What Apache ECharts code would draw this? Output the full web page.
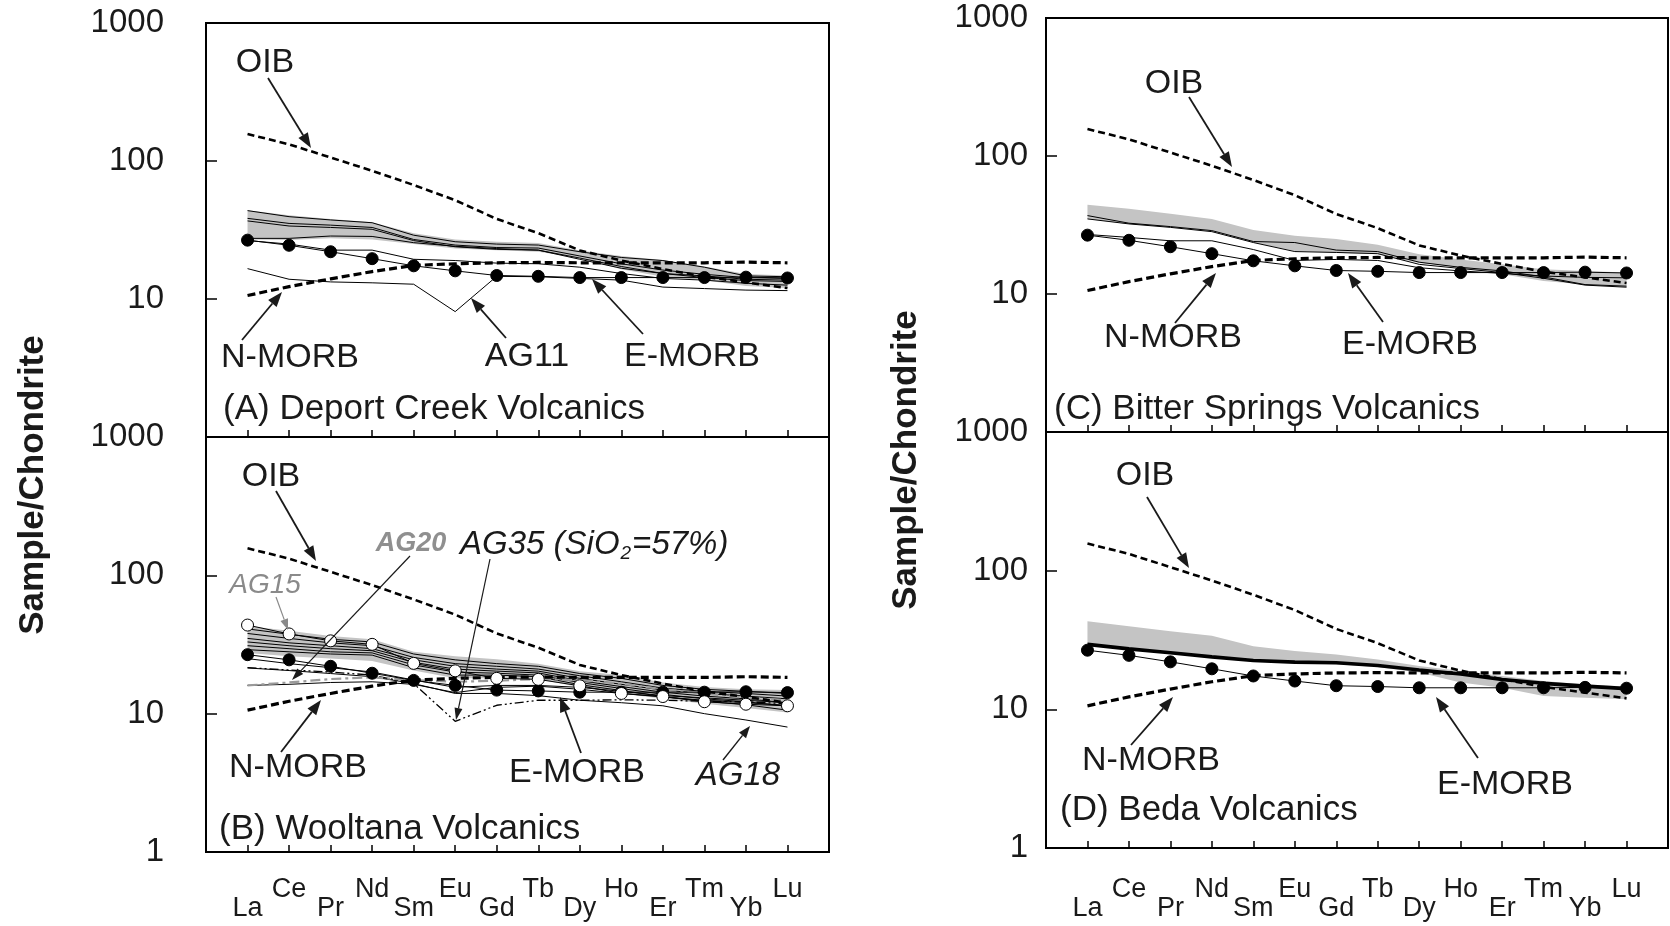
<!DOCTYPE html>
<html>
<head>
<meta charset="utf-8">
<title>Chondrite-normalised REE patterns</title>
<script src="https://cdn.jsdelivr.net/npm/echarts@6/dist/echarts.min.js"></script>
<style>
  html, body { margin: 0; padding: 0; background: #fff; }
  #chart { width: 1670px; height: 926px; }
</style>
</head>
<body>
<div id="chart"></div>
<script>
// ---------- data ----------
var ree = ['La', 'Ce', 'Pr', 'Nd', 'Sm', 'Eu', 'Gd', 'Tb', 'Dy', 'Ho', 'Er', 'Tm', 'Yb', 'Lu'];
var yTicks = [1, 10, 100, 1000];

// reference basalts
var oib   = [157, 132, 106, 85, 67, 52, 38, 30, 22.5, 19, 16.5, 14.5, 13.2, 12];
var nMorb = [10.6, 12.3, 14, 15.8, 17.5, 18, 18.3, 18.4, 18.3, 18.3, 18.3, 18.3, 18.5, 18.3];
var eMorb = [26.7, 24.5, 22, 19.6, 17.4, 16, 14.8, 14.6, 14.3, 14.3, 14.3, 14.3, 14.4, 14.2];

// (A) Deport Creek
var bandAHi = [44, 40.5, 38, 36, 30, 27, 26, 25.5, 22.5, 20.5, 19.2, 17.2, 15.2, 14.8];
var bandALo = [27, 26.8, 27.5, 27, 25, 23.2, 22.6, 22, 19.8, 16.4, 14.5, 13.7, 12.4, 12];
var a1 = [43.7, 39.5, 37.4, 35.7, 29, 26, 25, 24.6, 22, 20, 19, 17, 14.7, 14.5];
var a2 = [38.4, 35.3, 34.3, 33, 27, 24.6, 23.6, 23.4, 20.5, 18, 16.2, 15.1, 14.3, 14.1];
var a3 = [36.8, 33.8, 33, 32, 26.5, 23.9, 22.9, 22.6, 19.8, 17.2, 15.3, 14.7, 13.9, 13.7];
var a4 = [27.5, 27.5, 28.6, 28.4, 25.6, 24.1, 23.2, 22.6, 19.4, 16.7, 15.3, 14.3, 13.6, 13.4];
var a5 = [26.5, 25, 22.6, 22.6, 19.4, 19, 18.2, 18, 17, 15.3, 14.1, 13.7, 13, 12.6];
var ag11 = [16.6, 13.9, 13.3, 13.1, 12.8, 8.1, 14.6, 14.5, 14.1, 13.7, 12.2, 11.9, 11.6, 11.5];

// (B) Wooltana
var bandBHi = [43, 39.7, 36.4, 34.5, 28, 26, 24.7, 23, 20.3, 19, 16.8, 15.6, 15, 14.8];
var bandBLo = [27.5, 26, 25, 24, 20.5, 18, 18, 17.8, 15.5, 14, 12.8, 11.8, 11, 10.2];
var b1 = [41, 37.5, 34.5, 33, 27, 24.5, 23, 22, 19.5, 18, 16, 15, 14.5, 14];
var b2 = [38, 35, 32.5, 31, 25.5, 23, 22, 21, 18.8, 17, 15.3, 14.5, 14, 13.4];
var b3 = [35, 32.5, 31, 29.5, 24.5, 22, 21, 20.3, 18, 16.3, 14.8, 14, 13.4, 12.8];
var b4 = [33, 31, 29.5, 28.5, 23.5, 21, 20.3, 19.7, 17.3, 15.7, 14.3, 13.4, 12.8, 12];
var b5 = [31, 29.5, 28, 27.5, 22.5, 20, 19.6, 19, 16.8, 15.2, 13.8, 12.8, 12.2, 11.3];
var b6 = [29, 28, 27, 26.5, 21.5, 19, 19, 18.5, 16.2, 14.7, 13.3, 12.3, 11.6, 10.6];
var b7 = [25, 23, 21.5, 20, 17.5, 15.5, 16, 16, 15.5, 14.5, 13.5, 13, 12.5, 12];
var b8 = [16, 16.3, 16.8, 17, 16.3, 14.2, 15.5, 15.8, 15, 14, 13.2, 12.5, 12, 11.5];
var ag15 = [43.7, 37.7, 33.6, 31.7, 23.1, 20.4, 18, 17.7, 15.9, 14, 13.3, 12.2, 11.7, 11.4];
var ag18 = [21.4, 20.5, 19.5, 18.5, 16.5, 14, 14, 13.5, 12.5, 12, 11.4, 10, 9, 8];
var ag35 = [21.5, 20.7, 20, 19, 16.5, 8.8, 11.5, 12.5, 12.5, 12.6, 12.5, 12.3, 12.2, 11.8];
var ag20 = [16, 16.8, 17.8, 18.3, 17.5, 17, 17.3, 17.8, 17.5, 16.5, 15, 14, 13, 12.5];

// (C) Bitter Springs
var bandCHi = [44.3, 41.4, 38.1, 35, 29.1, 26.4, 25, 22.7, 19.4, 17.8, 16.4, 15.1, 14.7, 14.3];
var bandCLo = [35, 32.2, 30.8, 28.8, 23.6, 20.5, 19.9, 19.4, 16.8, 15.5, 13.9, 12.4, 11.7, 11.4];
var c1 = [37, 32.6, 30.8, 28.8, 24, 23.6, 20.8, 20.3, 17, 15.6, 14.7, 13.3, 11.7, 11.4];
var c2 = [35, 32.2, 30.4, 28.3, 23.6, 20.3, 20, 19.6, 16.4, 15.3, 14.3, 13, 11.6, 11.2];
var c3 = [27, 25.7, 24.3, 24.3, 21, 17.5, 17.8, 17.5, 15.5, 14.7, 14.1, 13.5, 13.2, 13.1];

// (D) Beda
var bandDHi = [43.2, 39.7, 36.6, 34, 28.5, 26.3, 24.9, 22.9, 20.5, 18.9, 17.4, 16, 15.1, 14.6];
var bandDLo = [29.4, 27.8, 25.6, 23.9, 22.3, 21.5, 21.1, 20.2, 18.4, 15.6, 14.3, 12.5, 12.1, 11.8];
var dMain = [29.4, 27.3, 25.6, 23.9, 22.5, 21.9, 21.7, 20.7, 19.2, 18, 16.4, 15.4, 14.7, 14.1];

// ---------- helpers ----------
var FONT = '"Liberation Sans", Arial, Helvetica, sans-serif';
var INK = '#1a1a1a';
var cats = [' '].concat(ree, ['  ']);

function pad(arr) { return [null].concat(arr, [null]); }

function line(g, data, style) {
  style = style || {};
  return {
    type: 'line', xAxisIndex: g, yAxisIndex: g, data: pad(data),
    symbol: style.symbol || 'none', symbolSize: style.symbolSize || 12,
    itemStyle: { color: style.fill || '#000', borderColor: '#000', borderWidth: style.symbol ? 1 : 0 },
    lineStyle: { color: style.color || '#000', width: style.width || 1, type: style.dash || 'solid' },
    z: style.z || 2, silent: true, animation: false
  };
}

function band(g, lo, hi) {
  return [
    { type: 'line', xAxisIndex: g, yAxisIndex: g, data: pad(lo), stack: 'band' + g,
      symbol: 'none', lineStyle: { width: 0, opacity: 0 }, z: 1, silent: true },
    { type: 'line', xAxisIndex: g, yAxisIndex: g, stack: 'band' + g,
      data: pad(hi.map(function (v, i) { return v - lo[i]; })),
      symbol: 'none', lineStyle: { width: 0, opacity: 0 },
      areaStyle: { color: '#c4c4c4', opacity: 1 }, z: 1, silent: true }
  ];
}

function refs(g) {
  return [
    line(g, oib, { dash: [7, 4], width: 2.6, z: 3 }),
    line(g, nMorb, { dash: [8, 4], width: 3.2, z: 3 }),
    line(g, eMorb, { symbol: 'circle', width: 1, z: 4 })
  ];
}

function arrow(x1, y1, x2, y2, col, w, hl, hw) {
  col = col || INK; w = w || 1.8; hl = hl || 15; hw = hw || 5.5;
  var a = Math.atan2(y2 - y1, x2 - x1);
  var bx = x2 - hl * Math.cos(a), by = y2 - hl * Math.sin(a);
  var px = -Math.sin(a) * hw, py = Math.cos(a) * hw;
  return [
    { type: 'line', z: 100, silent: true, shape: { x1: x1, y1: y1, x2: bx, y2: by },
      style: { stroke: col, lineWidth: w } },
    { type: 'polygon', z: 100, silent: true,
      shape: { points: [[x2, y2], [bx + px, by + py], [bx - px, by - py]] }, style: { fill: col } }
  ];
}

function label(text, x, y, font, col, align) {
  return { type: 'text', x: x, y: y, z: 100, silent: true,
    style: { text: text, font: font || ('34px ' + FONT), fill: col || INK,
      textAlign: align || 'center', textVerticalAlign: 'middle' } };
}

// ---------- layout ----------
var grids = [
  { left: 206, top: 23, width: 623, height: 414 },
  { left: 206, top: 437, width: 623, height: 415 },
  { left: 1046, top: 18, width: 622, height: 414 },
  { left: 1046, top: 432, width: 622, height: 416 }
];

var xAxes = grids.map(function (gr, g) {
  return {
    type: 'category', gridIndex: g, data: cats, boundaryGap: false, position: 'bottom',
    axisLine: { show: true, lineStyle: { color: '#000', width: 2.2 } },
    axisTick: { show: true, inside: true, length: 7, interval: 0, lineStyle: { color: '#000', width: 1.5 } },
    axisLabel: { show: false }, splitLine: { show: false }
  };
});

// staggered element names under the lower panels
[1, 3].forEach(function (g) {
  var extra = g === 3 ? 4 : 0;
  [0, 1].forEach(function (odd) {
    xAxes.push({
      type: 'category', gridIndex: g, data: cats, boundaryGap: false, position: 'bottom',
      axisLine: { show: false }, axisTick: { show: false }, splitLine: { show: false },
      axisLabel: {
        show: true, margin: (odd ? 43 : 24) + extra, fontSize: 27, fontFamily: FONT, color: INK,
        interval: function (i) { return i >= 1 && i <= 14 && (i % 2 === 1) === !!odd; }
      }
    });
  });
});

var yAxes = grids.map(function (gr, g) {
  var upper = g === 0 || g === 2;
  return {
    type: 'log', logBase: 10, min: 1, max: 1000, gridIndex: g,
    axisLine: { show: false },
    axisTick: { show: true, inside: true, length: 11, lineStyle: { color: '#000', width: 1.5 } },
    splitLine: { show: false },
    axisLabel: {
      margin: g < 2 ? 42 : 18, fontSize: 33, fontFamily: FONT, color: INK,
      formatter: function (v) {
        var r = Math.round(v);
        if (upper && r === yTicks[0]) return '';
        return yTicks.indexOf(r) >= 0 ? String(r) : '';
      }
    }
  };
});

var series = [].concat(
  band(0, bandALo, bandAHi),
  [a1, a2, a3, a4, a5].map(function (d) { return line(0, d); }),
  [line(0, ag11)],
  refs(0),

  band(1, bandBLo, bandBHi),
  [b1, b2, b3, b4, b5, b6, b7, b8].map(function (d) { return line(1, d); }),
  [line(1, ag18),
   line(1, ag35, { dash: [9, 3, 2, 3, 2, 3], width: 1.3 }),
   line(1, ag20, { dash: [10, 4, 3, 4], width: 2.2, color: '#9a9a9a' })],
  refs(1),
  [line(1, ag15, { symbol: 'circle', fill: '#fff', z: 5 })],

  band(2, bandCLo, bandCHi),
  [c1, c2, c3].map(function (d) { return line(2, d); }),
  refs(2),

  band(3, bandDLo, bandDHi),
  [line(3, dMain, { width: 3.6 })],
  refs(3)
);

// ---------- annotations ----------
var F = '34px ' + FONT, T = '35px ' + FONT;
var leftTitle = label('Sample/Chondrite', 33, 485, 'bold 35px ' + FONT);
leftTitle.rotation = Math.PI / 2;
var rightTitle = label('Sample/Chondrite', 906, 460, 'bold 35px ' + FONT);
rightTitle.rotation = Math.PI / 2;

var graphics = [].concat(
  leftTitle, rightTitle,
  // panel A
  label('OIB', 265, 63, F), arrow(268, 78, 311, 148),
  label('N-MORB', 290, 358, F), arrow(242, 340, 282, 292),
  label('AG11', 527, 357, F), arrow(506, 338, 471, 298),
  label('E-MORB', 692, 357, F), arrow(643, 334, 592, 279),
  label('(A) Deport Creek Volcanics', 223, 409, T, INK, 'left'),
  // panel B
  label('OIB', 271, 477, F), arrow(276, 491, 316, 561),
  label('AG15', 265, 585, 'italic 28px ' + FONT, '#8a8a8a'), arrow(276, 597, 288, 630, '#8a8a8a', 1.2, 11, 4),
  label('AG20', 411, 544, 'italic bold 27px ' + FONT, '#8f8f8f'), arrow(410, 556, 292, 680, INK, 1.2, 12, 4),
  arrow(490, 559, 456, 720, INK, 1.2, 12, 4),
  label('N-MORB', 298, 768, F), arrow(281, 752, 321, 700),
  label('E-MORB', 577, 773, F), arrow(581, 753, 560, 697),
  label('AG18', 738, 776, 'italic 33px ' + FONT), arrow(723, 760, 750, 726, INK, 1.4, 12, 4.5),
  label('(B) Wooltana Volcanics', 219, 829, T, INK, 'left'),
  // panel C
  label('OIB', 1174, 84, F), arrow(1189, 97, 1232, 167),
  label('N-MORB', 1173, 338, F), arrow(1175, 323, 1216, 273),
  label('E-MORB', 1410, 345, F), arrow(1383, 322, 1348, 273),
  label('(C) Bitter Springs Volcanics', 1054, 409, T, INK, 'left'),
  // panel D
  label('OIB', 1145, 476, F), arrow(1147, 497, 1189, 568),
  label('N-MORB', 1151, 761, F), arrow(1131, 745, 1173, 697),
  label('E-MORB', 1505, 785, F), arrow(1478, 758, 1436, 697),
  label('(D) Beda Volcanics', 1060, 810, T, INK, 'left')
);

// AG35 with subscript
graphics.push({
  type: 'text', x: 460, y: 545, z: 100, silent: true,
  style: {
    text: '{m|AG35 (SiO}{s|2}{m|=57%)}', textAlign: 'left', textVerticalAlign: 'middle', fill: INK,
    rich: {
      m: { fontSize: 33, fontStyle: 'italic', fontFamily: FONT, fill: INK, lineHeight: 40, verticalAlign: 'middle' },
      s: { fontSize: 19, fontStyle: 'italic', fontFamily: FONT, fill: INK, verticalAlign: 'bottom', padding: [0, 1, 2, 1] }
    }
  }
});

var chart = echarts.init(document.getElementById('chart'), null, { renderer: 'canvas' });
chart.setOption({
  animation: false,
  backgroundColor: '#fff',
  grid: grids.map(function (gr) {
    return Object.assign({ show: true, borderColor: '#000', borderWidth: 2, backgroundColor: 'transparent',
      containLabel: false }, gr);
  }),
  xAxis: xAxes,
  yAxis: yAxes,
  series: series,
  graphic: { elements: graphics }
});
</script>
</body>
</html>
